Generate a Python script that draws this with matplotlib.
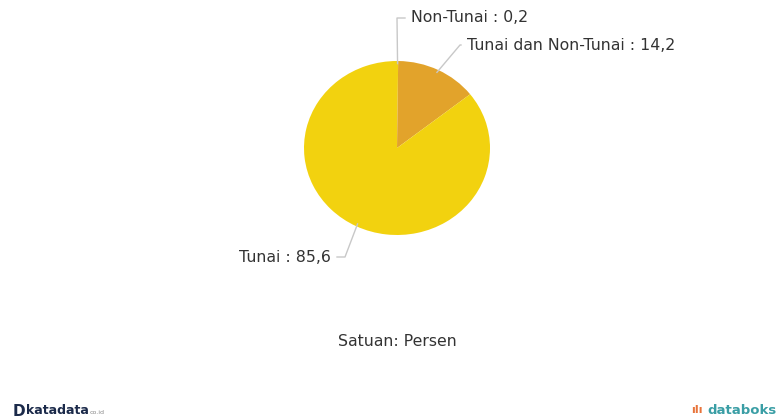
import numpy as np
import matplotlib
matplotlib.use("Agg")
import matplotlib.pyplot as plt
from matplotlib.lines import Line2D

# data (percent)
categories = ["Non-Tunai", "Tunai dan Non-Tunai", "Tunai"]
values = [0.2, 14.2, 85.6]
colors = ["#F2D20F", "#E2A32B", "#F2D20F"]

# label anchor positions (figure pixels, top-left origin): elbow, text start, side
label_layout = {
    "Non-Tunai": ((397, 18), (411, 18), "left"),
    "Tunai dan Non-Tunai": ((460, 45), (467, 45), "left"),
    "Tunai": ((345, 257), (331, 257), "right"),
}

W, H = 780, 418
fig = plt.figure(figsize=(W / 100, H / 100), dpi=100)
fig.patch.set_facecolor("white")


def fx(x):
    return x / W


def fy(y):
    return 1 - y / H


# pie axes placed over the pie's box; slightly elliptic like the source
cx, cy, rx, ry = 397, 148, 93, 87
ax = fig.add_axes([fx(cx - rx), fy(cy + ry), 2 * rx / W, 2 * ry / H])
wedges, _ = ax.pie(values, colors=colors, startangle=90, counterclock=False,
                   radius=1, wedgeprops=dict(linewidth=0))
ax.set_aspect("auto")
ax.set_xlim(-1, 1)
ax.set_ylim(-1, 1)
ax.axis("off")

line_col = "#C8C8C8"
text_col = "#333333"
fs = 11.3
for w, name, val in zip(wedges, categories, values):
    mid = np.deg2rad((w.theta1 + w.theta2) / 2)
    # edge point in figure pixels (top-left origin)
    ex = cx + rx * 0.97 * np.cos(mid)
    ey = cy - ry * 0.97 * np.sin(mid)
    (elx, ely), (tx, ty), ha = label_layout[name]
    end_x = tx - 6 if ha == "left" else tx + 6
    fig.add_artist(Line2D([fx(ex), fx(elx), fx(end_x)], [fy(ey), fy(ely), fy(ely)],
                          color=line_col, lw=1))
    fig.text(fx(tx), fy(ty), f"{name} : {str(val).replace('.', ',')}",
             ha=ha, va="center", fontsize=fs, color=text_col)

fig.text(fx(397), fy(341), "Satuan: Persen", ha="center", va="center",
         fontsize=fs, color=text_col)

# footer logos as text
fig.text(fx(13), fy(411), "D", ha="left", va="center", fontsize=11,
         fontweight="bold", color="#1B2A4A")
fig.text(fx(26), fy(411), "katadata", ha="left", va="center", fontsize=9,
         fontweight="bold", color="#1B2A4A")
fig.text(fx(90), fy(413), "co.id", ha="left", va="center", fontsize=4.5,
         color="#888888")
fig.text(fx(691), fy(410), "ıIı", ha="left", va="center", fontsize=8,
         fontweight="bold", color="#E8743B")
fig.text(fx(777), fy(410), "databoks", ha="right", va="center", fontsize=9.5,
         fontweight="bold", color="#3A9EA5")

fig.savefig("out.png", dpi=100, facecolor="white")
